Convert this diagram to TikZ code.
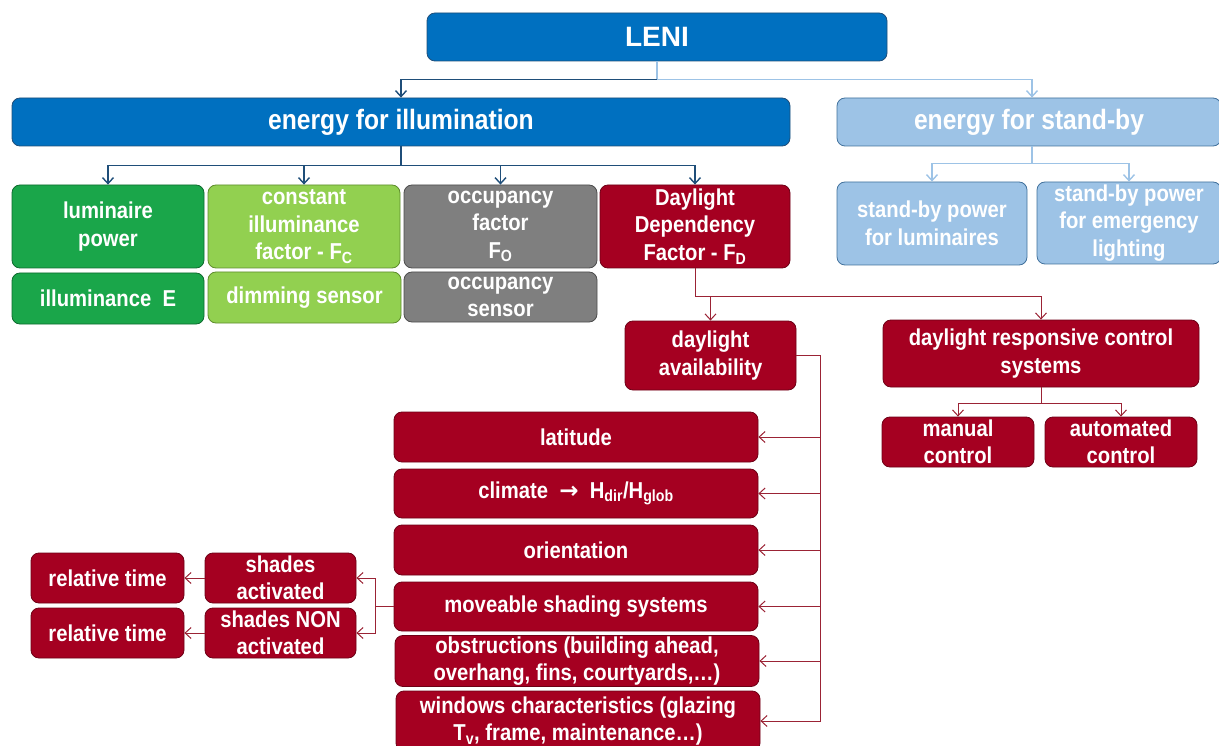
\documentclass[tikz,border=0pt]{standalone}
\usepackage{fontspec}
\setmainfont{Liberation Sans}[FakeStretch=0.88]
\newfontfamily\lenifont{Liberation Sans}
\newfontfamily\arrowfont{DejaVu Sans}
\usetikzlibrary{positioning,calc,arrows.meta}
\definecolor{leni_blue}{HTML}{0070C0}
\definecolor{leni_blue_dk}{HTML}{1F4E79}
\definecolor{leni_lblue}{HTML}{9DC3E6}
\definecolor{leni_lblue_dk}{HTML}{41719C}
\definecolor{leni_green}{HTML}{1AA64A}
\definecolor{leni_green_dk}{HTML}{0E6B2E}
\definecolor{leni_lgreen}{HTML}{92D050}
\definecolor{leni_lgreen_dk}{HTML}{5E8C2C}
\definecolor{leni_grey}{HTML}{7F7F7F}
\definecolor{leni_grey_dk}{HTML}{4D4D4D}
\definecolor{leni_red}{HTML}{A50021}
\definecolor{leni_red_dk}{HTML}{6E0016}
\definecolor{leni_redline}{HTML}{9B2335}
\tikzset{BOX/.style={rectangle,rounded corners=8pt,draw,thick,align=center,text=white,inner sep=1pt,font=\bfseries\fontsize{23}{27.5}\selectfont}}
\tikzset{B_BLUE/.style={BOX,fill=leni_blue,draw=leni_blue_dk,font=\bfseries\fontsize{28}{30}\selectfont}}
\tikzset{B_LBLUE/.style={BOX,fill=leni_lblue,draw=leni_lblue_dk}}
\tikzset{B_GREEN/.style={BOX,fill=leni_green,draw=leni_green_dk}}
\tikzset{B_LGREEN/.style={BOX,fill=leni_lgreen,draw=leni_lgreen_dk}}
\tikzset{B_GREY/.style={BOX,fill=leni_grey,draw=leni_grey_dk}}
\tikzset{B_RED/.style={BOX,fill=leni_red,draw=leni_red_dk}}
\tikzset{ARROW/.style={line width=1.4pt,-{Straight Barb[length=6pt,width=11pt]}}}
\tikzset{RARROW/.style={ARROW,line width=1pt,leni_redline}}

\begin{document}
\begin{tikzpicture}[x=1pt,y=-1pt]
\useasboundingbox (0,0) rectangle (1219,746);

% top level
\node[B_BLUE, minimum width=460pt, minimum height=48pt] (n_leni) at (657,37) {\lenifont\bfseries\fontsize{28}{30}\selectfont LENI};
\node[B_BLUE, minimum width=778pt, minimum height=48pt] (n_illum) at (401,122) {energy for illumination};
\node[B_LBLUE, minimum width=384pt, minimum height=48pt, font=\bfseries\fontsize{28}{30}\selectfont] (n_standby) at (1029,122) {energy for stand-by};

\coordinate (c_leni) at ($(n_leni.south)+(0,18)$);
\draw[ARROW, leni_lblue] (n_leni.south) -- (c_leni) -| ($(n_standby.north)+(3,0)$);
\draw[ARROW, leni_blue_dk] (c_leni) -| (n_illum.north);

% energy for illumination
\node[B_GREEN, minimum width=192pt, minimum height=83pt] (n_lumpower) at (108,226.5) {luminaire\\power};
\node[B_LGREEN, minimum width=192pt, minimum height=83pt] (n_constill) at (304,226.5) {constant\\illuminance\\factor - F\textsubscript{C}};
\node[B_GREY, minimum width=193pt, minimum height=83pt] (n_occfac) at (500.5,226.5) {occupancy\\factor\\F\textsubscript{O}};
\node[B_RED, minimum width=190pt, minimum height=83pt] (n_fd) at (695,226.5) {Daylight\\Dependency\\Factor - F\textsubscript{D}};

\node[B_GREEN, minimum width=192pt, minimum height=51pt] (n_illE) at (108,298.5) {illuminance~~E};
\node[B_LGREEN, minimum width=193pt, minimum height=51pt] (n_dimming) at (304.5,297.5) {dimming sensor};
\node[B_GREY, minimum width=193pt, minimum height=50pt] (n_occsens) at (500.5,297) {occupancy\\sensor};

\coordinate (c_illum) at ($(n_illum.south)+(0,19)$);
\draw[line width=1.4pt, leni_blue_dk] (n_illum.south) -- (c_illum);
\foreach \n in {n_lumpower,n_constill,n_occfac,n_fd}
  \draw[ARROW, leni_blue_dk] (c_illum) -| (\n.north);

% energy for stand-by
\node[B_LBLUE, minimum width=190pt, minimum height=83pt] (n_sblum) at (932,223.5) {stand-by power\\for luminaires};
\node[B_LBLUE, minimum width=184pt, minimum height=82pt] (n_sbemerg) at (1129,223) {stand-by power\\for emergency\\lighting};

\coordinate (c_standby) at ($(n_standby.south)+(3,17)$);
\draw[line width=1.4pt, leni_lblue] ($(n_standby.south)+(3,0)$) -- (c_standby);
\foreach \n in {n_sblum,n_sbemerg}
  \draw[ARROW, leni_lblue] (c_standby) -| (\n.north);

% daylight dependency
\node[B_RED, minimum width=171pt, minimum height=69pt] (n_dlavail) at (710.5,355.5) {daylight\\availability};
\node[B_RED, minimum width=316pt, minimum height=67pt] (n_drcs) at (1041,353.5) {daylight responsive control\\systems};
\node[B_RED, minimum width=152pt, minimum height=50pt] (n_manual) at (958,442) {manual\\control};
\node[B_RED, minimum width=152pt, minimum height=50pt] (n_auto) at (1121,442) {automated\\control};

\coordinate (c_fd) at ($(n_fd.south)+(0,28)$);
\draw[line width=1pt, leni_redline] (n_fd.south) -- (c_fd);
\foreach \n in {n_dlavail,n_drcs}
  \draw[RARROW] (c_fd) -| (\n.north);

\coordinate (c_drcs) at ($(n_drcs.south)+(0,16)$);
\draw[line width=1pt, leni_redline] (n_drcs.south) -- (c_drcs);
\foreach \n in {n_manual,n_auto}
  \draw[RARROW] (c_drcs) -| (\n.north);

% daylight availability
\node[B_RED, minimum width=364pt, minimum height=50pt] (n_lat) at (576,437) {latitude};
\node[B_RED, minimum width=364pt, minimum height=49pt] (n_climate) at (576,493.5) {climate~~{\arrowfont\bfseries →}~~H\textsubscript{dir}/H\textsubscript{glob}};
\node[B_RED, minimum width=364pt, minimum height=50pt] (n_orient) at (576,550) {orientation};
\node[B_RED, minimum width=364pt, minimum height=49pt] (n_shading) at (576,606.5) {moveable shading systems};
\node[B_RED, minimum width=364pt, minimum height=50pt] (n_obstr) at (577,661) {obstructions (building ahead,\\overhang, fins, courtyards,…)};
\node[B_RED, minimum width=364pt, minimum height=60pt] (n_windows) at (578,721) {windows characteristics (glazing\\T\textsubscript{v}, frame, maintenance…)};

\coordinate (c_avail) at ($(n_dlavail.east)+(24,0)$);
\foreach \n in {n_lat,n_climate,n_orient,n_shading,n_obstr,n_windows}
  \draw[RARROW] (n_dlavail.east) -- (c_avail) |- (\n.east);

% moveable shading
\node[B_RED, minimum width=151pt, minimum height=50pt] (n_shact) at (280.5,578) {shades\\activated};
\node[B_RED, minimum width=151pt, minimum height=50pt] (n_shnon) at (280.5,633) {shades NON\\activated};
\node[B_RED, minimum width=153pt, minimum height=50pt] (n_rtime_a) at (107.5,578) {relative time};
\node[B_RED, minimum width=153pt, minimum height=50pt] (n_rtime_b) at (107.5,633) {relative time};

\coordinate (c_shading) at ($(n_shading.west)+(-18,0)$);
\foreach \n in {n_shact,n_shnon}
  \draw[RARROW] (n_shading.west) -- (c_shading) |- (\n.east);
\draw[RARROW] (n_shact.west) -- (n_rtime_a.east);
\draw[RARROW] (n_shnon.west) -- (n_rtime_b.east);

\end{tikzpicture}
\end{document}
